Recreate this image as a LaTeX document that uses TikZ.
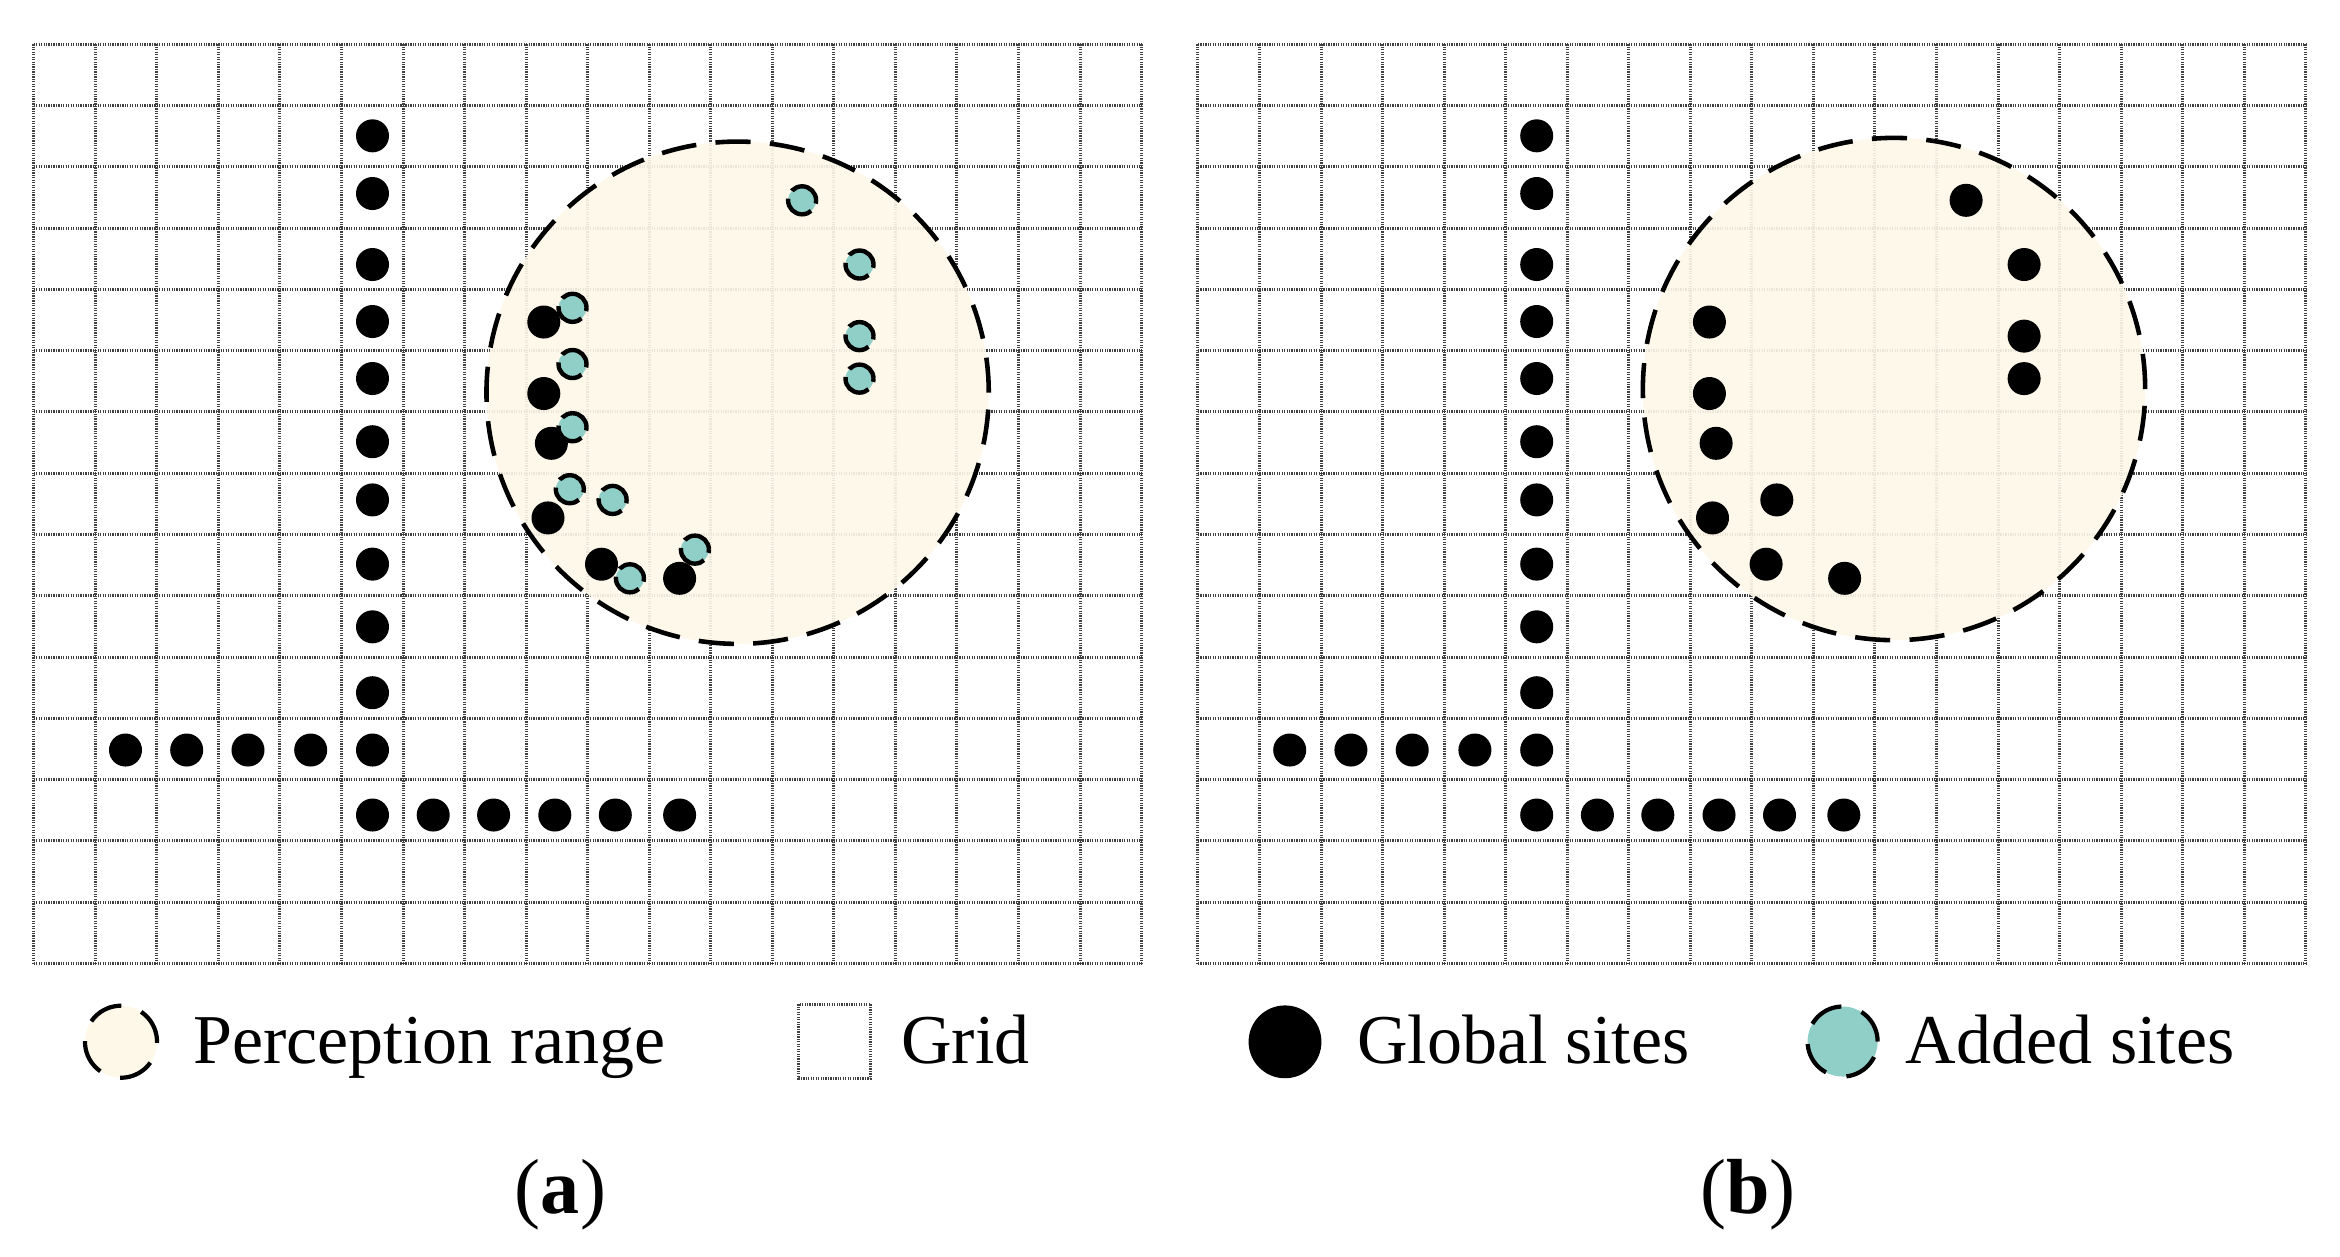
\documentclass[tikz,border=0pt]{standalone}
\usepackage{fontspec}
\setmainfont{Liberation Serif}
\definecolor{cream}{RGB}{254,248,233}
\definecolor{tealsite}{RGB}{143,207,200}
\tikzset{
  gridline/.style={black!75, line width=0.85pt, dash pattern=on 0.35pt off 0.35pt},
  percrange/.style={fill=cream, fill opacity=0.9, draw=black, draw opacity=1, line width=1.3pt, dash pattern=on 10pt off 5.5pt},
  globalsite/.style={fill=black},
  addedsite/.style={fill=tealsite, draw=black, line width=1.25pt, dash pattern=on 9.5pt off 2.5pt},
  legtext/.style={inner sep=0pt, anchor=base west, font=\fontsize{19.9pt}{24pt}\selectfont},
  captext/.style={inner sep=0pt, anchor=base, font=\fontsize{22.2pt}{26pt}\selectfont},
}
\newcommand{\gridpanel}{%
  \foreach \i in {0,...,18}
    \draw[gridline] ({33.7+\i*61.55},44.3) -- ({33.7+\i*61.55},963.4);
  \foreach \j in {0,...,15}
    \draw[gridline] (33.7,{44.3+\j*61.27}) -- (1141.6,{44.3+\j*61.27});
}
\newcommand{\globaldots}{%
  \foreach \y in {135.8,193.5,264.5,321.5,378.5,441.7,499.9,564.1,626.8,692.7,750,815}
    \fill[globalsite] (372.5,\y) circle[radius=0.165cm];
  \foreach \x in {125.5,186.7,248,310.7}
    \fill[globalsite] (\x,750) circle[radius=0.165cm];
  \foreach \x in {433.2,493.6,554.8,615.3,679.6}
    \fill[globalsite] (\x,815) circle[radius=0.165cm];
}
\begin{document}
\begin{tikzpicture}[x=0.01cm, y=-0.01cm]
\useasboundingbox[fill=white] (0,0) rectangle (2340,1256);
% ---------- panel (a)
\gridpanel
\globaldots
\draw[percrange] (737.6,392.7) circle[radius=2.51cm];
\foreach \x/\y in {543.8/322, 543.8/393.5, 551.4/443.3, 548/517.9, 601.5/564.2, 679.6/578.3}
  \fill[globalsite] (\x,\y) circle[radius=0.165cm];
\foreach \x/\y in {802.1/200.3, 859.5/264.5, 859.5/336.1, 859.5/378.6, 572.5/307.8, 572.5/364, 572.5/427.2, 569.8/489.2, 612.6/499.9, 629.9/578.3, 694.9/549.6}
  \draw[addedsite] (\x,\y) circle[radius=0.14cm];
% ---------- panel (b)
\begin{scope}[shift={(1164.2,0)}]
\gridpanel
\globaldots
\end{scope}
\draw[percrange] (1894,389) circle[radius=2.51cm];
\foreach \x/\y in {1966.1/200.3, 2024.1/264.5, 2024.1/336.1, 2024.1/378.6, 1709.4/322, 1709.4/393.5, 1716.1/443.3, 1712.5/517.9, 1776.8/499.9, 1766.1/564.2, 1844.6/578.3}
  \fill[globalsite] (\x,\y) circle[radius=0.165cm];
% ---------- legend
\draw[percrange, fill opacity=1, line width=1.2pt, dash pattern=on 10pt off 6pt] (121,1041.7) circle[radius=0.36cm];
\node[legtext] (lrange) at (192.5,1063.3) {Perception range};
\draw[gridline] (798.5,1004.3) rectangle (870.9,1078.3);
\node[legtext] (lgrid) at (900.7,1063.3) {Grid};
\fill[globalsite] (1285,1041.8) circle[radius=0.364cm];
\node[legtext] (lglobal) at (1356.4,1063.3) {Global sites};
\draw[addedsite, line width=1.2pt, dash pattern=on 10pt off 6pt] (1842.6,1041.5) circle[radius=0.35cm];
\node[legtext] (ladded) at (1905.2,1063.3) {Added sites};
\node[captext] (capa) at (560.5,1213.3) {(\textbf{a})};
\node[captext] (capb) at (1747.7,1213.3) {(\textbf{b})};
\end{tikzpicture}
\end{document}
